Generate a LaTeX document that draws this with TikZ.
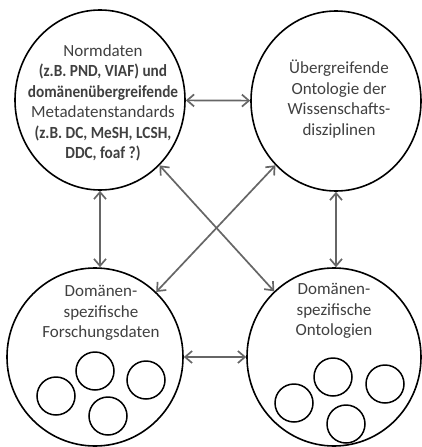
\documentclass[tikz,border=0pt]{standalone}
\usepackage{fontspec}
\setmainfont{Carlito}
\newfontface\condbold{Carlito Bold}[FakeStretch=0.9]
\usetikzlibrary{shapes.geometric,arrows.meta}
\definecolor{txt}{HTML}{404040}
\definecolor{arr}{HTML}{666666}
\begin{document}
\begin{tikzpicture}[x=1pt,y=-1pt,
 big/.style={ellipse,draw=black,line width=1.6pt,inner sep=0pt},
 small/.style={circle,draw=black,line width=1.5pt,minimum size=38pt,inner sep=0pt},
 lbl/.style={text=txt,align=center,font=\fontsize{17}{20.5}\selectfont,inner sep=0pt},
 link/.style={draw=arr,line width=1.7pt,{Straight Barb[length=7pt,width=12pt]}-{Straight Barb[length=7pt,width=12pt]}}]
\useasboundingbox (0,0) rectangle (422,447);
\node[big,minimum width=170pt,minimum height=180pt] (TL) at (100,100) {};
\node[big,minimum width=170pt,minimum height=180pt] (TR) at (336,101) {};
\node[big,minimum width=176pt,minimum height=178pt] (BL) at (95,357) {};
\node[big,minimum width=174pt,minimum height=178pt] (BR) at (334,357) {};
\draw[link] (TL) -- (TR);
\draw[link] (BL) -- (BR);
\draw[link] (TL.south) -- (TL.south |- BL.north);
\draw[link] (TR.south) -- (TR.south |- BR.north);
\draw[link] (TL) -- (BR);
\draw[link] (TR) -- (BL);
\node[lbl] (tTL) at (103,103) {Normdaten\\{\condbold (z.B. PND, VIAF) und}\\{\condbold domänenübergreifende}\\Metadatenstandards\\{\condbold (z.B. DC, MeSH, LCSH,}\\{\condbold DDC, foaf ?)}};
\node[lbl] (tTR) at (339,99) {Übergreifende\\Ontologie der\\Wissenschafts-\\disziplinen};
\node[lbl] (tBL) at (101,313) {Domänen-\\spezifische\\Forschungsdaten};
\node[lbl] (tBR) at (334,311) {Domänen-\\spezifische\\Ontologien};
\node[small] (b1) at (95,371) {};
\node[small] (b2) at (146,380) {};
\node[small] (b3) at (56,396) {};
\node[small] (b4) at (108,416) {};
\node[small] (r1) at (333,377) {};
\node[small] (r2) at (385,384) {};
\node[small] (r3) at (294,403) {};
\node[small] (r4) at (346,424) {};
\end{tikzpicture}
\end{document}
